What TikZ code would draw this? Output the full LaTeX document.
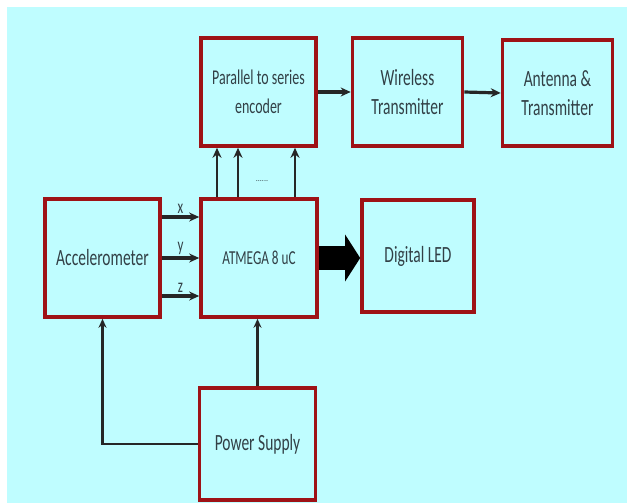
\documentclass[tikz,border=0pt]{standalone}
\usepackage{fontspec}
\setmainfont{Carlito}
\usepackage{graphicx}
\usetikzlibrary{arrows.meta, positioning}
\definecolor{bgcyan}{RGB}{191,253,255}
\definecolor{boxred}{RGB}{158,18,22}
\definecolor{txtgray}{RGB}{50,64,70}
\newcommand{\tallt}[1]{\scalebox{1}[1.5]{#1}}
\tikzset{
    blockbox/.style={draw=boxred, fill=bgcyan, line width=3.6pt, align=center, text=txtgray, font=\fontsize{15.5}{29}\selectfont},
    sigarrow/.style={-{Stealth[length=10pt, width=9pt]}, line width=3.2pt, draw=black!85},
    pwrline/.style={-{Stealth[length=9pt, width=8pt]}, line width=2.6pt, draw=black!85},
    axislabel/.style={text=txtgray, font=\fontsize{13}{13}\selectfont, inner sep=1.5pt},
}

\begin{document}
\begin{tikzpicture}[x=1pt, y=-1pt]
\useasboundingbox (0,0) rectangle (627,503);
\fill[bgcyan] (7,7) rectangle (627,503);
% top row
\node[blockbox, minimum width=115pt, minimum height=108pt, font=\fontsize{14}{29}\selectfont] (enc) at (258.5,92) {\tallt{Parallel to series}\\\tallt{encoder}};
\node[blockbox, minimum width=110pt, minimum height=108pt] (wtx) at (407.5,92) {\tallt{Wireless}\\\tallt{Transmitter}};
\node[blockbox, minimum width=110pt, minimum height=106pt] (ant) at (557.5,93) {\tallt{Antenna \&}\\\tallt{Transmitter}};
% middle row
\node[blockbox, minimum width=115pt, minimum height=118pt] (acc) at (102.5,258) {\tallt{Accelerometer}};
\node[blockbox, minimum width=116pt, minimum height=118pt, font=\fontsize{13.2}{29}\selectfont] (mcu) at (259,258) {\tallt{ATMEGA 8 uC}};
\node[blockbox, minimum width=112pt, minimum height=112pt] (led) at (418,256) {\tallt{Digital LED}};
% bottom
\node[blockbox, minimum width=116pt, minimum height=112pt] (psu) at (257.5,444) {\tallt{Power Supply}};
% arrows
\draw[sigarrow] (enc.east) -- (wtx.west);
\draw[sigarrow] (wtx.east) -- (ant.west);
\foreach \dx in {-42,-21,36}
  \draw[sigarrow, line width=2.5pt] ([xshift=\dx pt]mcu.north) -- ([xshift=\dx pt]mcu.north |- enc.south);
\node[text=txtgray, font=\fontsize{8}{8}\selectfont] (dots) at (262,181) {......};
\draw[sigarrow] ([yshift=41pt]acc.east) -- node[axislabel, above]{\tallt{x}} ([yshift=41pt]acc.east -| mcu.west);
\draw[sigarrow] (acc.east) -- node[axislabel, above]{\tallt{y}} (mcu.west);
\draw[sigarrow] ([yshift=-38pt]acc.east) -- node[axislabel, above]{\tallt{z}} ([yshift=-38pt]acc.east -| mcu.west);
\draw[line width=24pt, draw=black, -{Triangle[length=15pt, width=46pt]}] (mcu.east) -- (mcu.east -| led.west);
\draw[pwrline] (psu.north) -- (psu.north |- mcu.south);
\draw[pwrline] (psu.west) -| (acc.south);
\end{tikzpicture}
\end{document}
